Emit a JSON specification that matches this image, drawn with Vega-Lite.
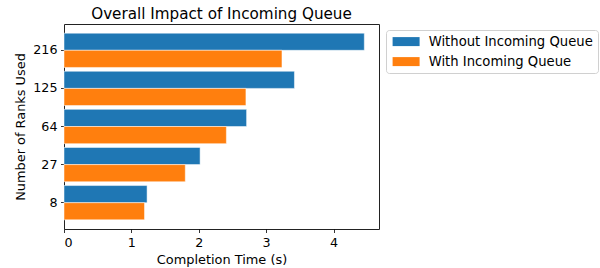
{
  "$schema": "https://vega.github.io/schema/vega-lite/v6.json",
  "autosize": "none",
  "width": 315,
  "height": 205,
  "padding": {"left": 64, "top": 24, "right": 221, "bottom": 39},
  "background": "white",
  "title": {"text": "Overall Impact of Incoming Queue", "font": "DejaVu Sans", "fontSize": 15.2, "fontWeight": "normal", "color": "black", "offset": 2, "anchor": "middle"},
  "config": {
    "view": {"stroke": "#222222", "strokeWidth": 1},
    "font": "DejaVu Sans",
    "axis": {"labelFont": "DejaVu Sans", "titleFont": "DejaVu Sans", "labelFontSize": 12.7, "titleFontSize": 12.9, "titleFontWeight": "normal", "labelColor": "black", "titleColor": "black", "tickColor": "black", "tickSize": 3.5, "tickWidth": 0.8, "domain": false, "grid": false, "labelPadding": 3.5}
  },
  "data": {"values": [
    {"ranks": "8", "series": "Without Incoming Queue", "time": 1.233},
    {"ranks": "8", "series": "With Incoming Queue", "time": 1.195},
    {"ranks": "27", "series": "Without Incoming Queue", "time": 2.02},
    {"ranks": "27", "series": "With Incoming Queue", "time": 1.80},
    {"ranks": "64", "series": "Without Incoming Queue", "time": 2.71},
    {"ranks": "64", "series": "With Incoming Queue", "time": 2.41},
    {"ranks": "125", "series": "Without Incoming Queue", "time": 3.42},
    {"ranks": "125", "series": "With Incoming Queue", "time": 2.70},
    {"ranks": "216", "series": "Without Incoming Queue", "time": 4.457},
    {"ranks": "216", "series": "With Incoming Queue", "time": 3.235}
  ]},
  "mark": {"type": "bar", "stroke": "white", "strokeWidth": 0.5},
  "encoding": {
    "y": {"field": "ranks", "type": "nominal", "sort": ["216", "125", "64", "27", "8"],
      "scale": {"paddingInner": 0.1, "paddingOuter": 0.24},
      "axis": {"title": "Number of Ranks Used", "labelAngle": 0, "titlePadding": 5}},
    "yOffset": {"field": "series", "type": "nominal", "sort": ["Without Incoming Queue", "With Incoming Queue"], "scale": {"paddingInner": 0, "paddingOuter": 0}},
    "x": {"field": "time", "type": "quantitative", "scale": {"domain": [0, 4.675], "nice": false, "zero": true},
      "axis": {"title": "Completion Time (s)", "values": [0, 1, 2, 3, 4], "format": "d", "titlePadding": 5}},
    "color": {"field": "series", "type": "nominal",
      "scale": {"domain": ["Without Incoming Queue", "With Incoming Queue"], "range": ["#1f77b4", "#ff7f0e"]},
      "legend": {"title": null, "orient": "none", "legendX": 322, "legendY": 6,
        "symbolType": "M-2.7,-0.9H2.7V0.9H-2.7Z", "symbolSize": 100, "symbolStrokeWidth": 0, "symbolOpacity": 1,
        "symbolOffset": 8.5, "labelFont": "DejaVu Sans", "labelFontSize": 13.2, "labelColor": "black", "labelOffset": 16, "labelLimit": 400,
        "padding": 5, "rowPadding": 6, "strokeColor": "#d0d0d0", "fillColor": "white", "cornerRadius": 3}}
  }
}
